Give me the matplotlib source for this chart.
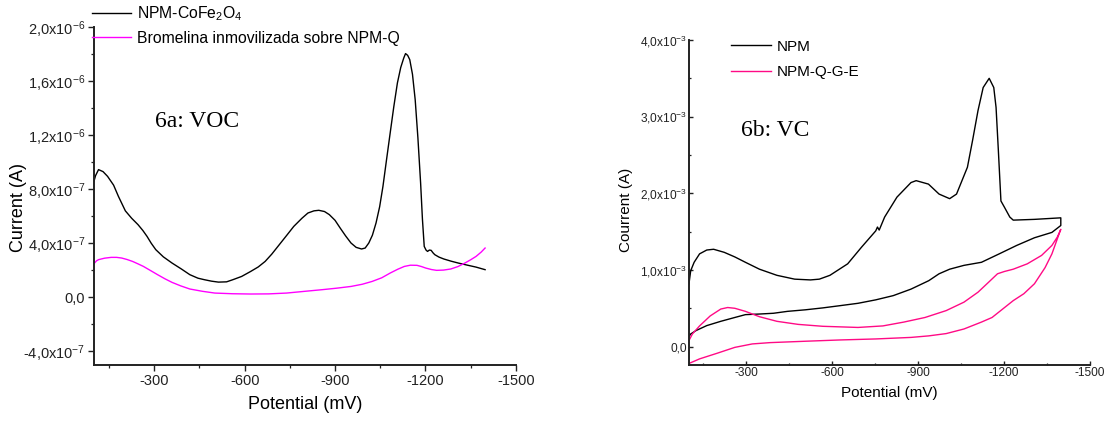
import matplotlib
matplotlib.use("Agg")
import matplotlib.pyplot as plt
import numpy as np
from matplotlib.ticker import FixedLocator, MultipleLocator

plt.rcParams['font.family'] = ['Liberation Sans', 'DejaVu Sans']
plt.rcParams['mathtext.fontset'] = 'custom'
plt.rcParams['mathtext.rm'] = 'Liberation Sans'
plt.rcParams['mathtext.default'] = 'regular'

# ---------------- Data: panel 6a (VOC) ----------------
# potential in mV, current in units of 1e-7 A
voc_black_x = [-100, -105, -115, -130, -145, -165, -181, -204, -225, -246, -262, -276, -290, -305,
               -330, -359, -390, -418, -445, -466, -490, -513, -540, -561, -590, -620, -645, -668,
               -690, -715, -740, -763, -790, -810, -830, -846, -865, -881, -900, -917, -935, -953,
               -970, -988, -1000, -1012, -1024, -1036, -1048, -1059, -1071, -1083, -1095, -1107,
               -1118, -1128, -1134, -1141, -1148, -1157, -1166, -1175, -1184, -1190, -1196, -1202,
               -1207, -1213, -1219, -1225, -1231, -1245, -1261, -1285, -1309, -1340, -1368, -1398]
voc_black_y = [8.6, 9.0, 9.45, 9.3, 8.95, 8.3, 7.47, 6.4, 5.85, 5.38, 4.95, 4.51, 4.0, 3.53,
               3.0, 2.54, 2.1, 1.68, 1.42, 1.31, 1.2, 1.13, 1.15, 1.31, 1.55, 1.92, 2.25, 2.66,
               3.2, 3.9, 4.6, 5.25, 5.85, 6.24, 6.4, 6.44, 6.35, 6.12, 5.7, 5.13, 4.55, 4.02,
               3.7, 3.58, 3.65, 4.02, 4.6, 5.5, 6.7, 8.21, 10.2, 12.16, 14.1, 15.86,
               17.0, 17.7, 18.03, 17.9, 17.58, 16.5, 14.62, 11.8, 8.46, 5.8, 3.77, 3.5,
               3.4, 3.5, 3.48, 3.3, 3.16, 2.98, 2.84, 2.68, 2.54, 2.38, 2.24, 2.05]
voc_pink_x = [-100, -108, -115, -135, -157, -175, -192, -210, -228, -246, -264, -288, -311, -335,
              -359, -388, -418, -460, -501, -560, -620, -680, -739, -800, -857, -905, -953, -990,
              -1023, -1055, -1083, -1108, -1130, -1150, -1172, -1187, -1201, -1220, -1237, -1260,
              -1284, -1308, -1331, -1350, -1368, -1385, -1398]
voc_pink_y = [2.5, 2.7, 2.79, 2.9, 2.96, 2.96, 2.91, 2.8, 2.66, 2.48, 2.29, 1.98, 1.68, 1.38,
              1.11, 0.85, 0.62, 0.45, 0.32, 0.27, 0.25, 0.26, 0.32, 0.45, 0.57, 0.68, 0.81, 0.97,
              1.18, 1.45, 1.8, 2.08, 2.29, 2.38, 2.37, 2.28, 2.17, 2.06, 2.0, 2.02,
              2.1, 2.28, 2.54, 2.78, 3.03, 3.35, 3.65]
voc_scale = 1e-7
voc_labels = ['NPM-CoFe$_2$O$_4$', 'Bromelina inmovilizada sobre NPM-Q']
voc_yticks = [-4e-7, 0.0, 4e-7, 8e-7, 1.2e-6, 1.6e-6, 2.0e-6]
voc_yticklabels = ['-4,0x10$^{-7}$', '0,0', '4,0x10$^{-7}$', '8,0x10$^{-7}$',
                   '1,2x10$^{-6}$', '1,6x10$^{-6}$', '2,0x10$^{-6}$']

# ---------------- Data: panel 6b (VC) ----------------
# potential in mV, current in units of 1e-3 A
vc_black_x = [-100, -106, -118, -137, -162, -186, -223, -260, -297, -346, -407, -469, -524, -555,
              -592, -654, -703, -752, -758, -764, -783, -826, -875, -893, -936, -973, -1010, -1034,
              -1072, -1090, -1109, -1127, -1148, -1164, -1172, -1180, -1189, -1201, -1220, -1232,
              -1306, -1398,
              -1398, -1367, -1306, -1244, -1183, -1121, -1060, -1010, -973, -937, -875, -813, -752,
              -690, -629, -567, -506, -444, -395, -346, -297, -260, -211, -162, -125, -106, -100]
vc_black_y = [0.82, 0.99, 1.1, 1.21, 1.26, 1.27, 1.23, 1.17, 1.1, 1.01, 0.93, 0.88, 0.87, 0.88,
              0.93, 1.08, 1.3, 1.51, 1.56, 1.52, 1.69, 1.95, 2.14, 2.165, 2.12, 1.99, 1.93, 1.99,
              2.34, 2.69, 3.08, 3.38, 3.5, 3.38, 3.12, 2.56, 1.9, 1.82, 1.69, 1.65,
              1.66, 1.68,
              1.58, 1.49, 1.42, 1.32, 1.21, 1.1, 1.06, 1.01, 0.95, 0.86, 0.75, 0.665, 0.61,
              0.565, 0.535, 0.505, 0.48, 0.46, 0.435, 0.425, 0.417, 0.38, 0.33, 0.274, 0.21, 0.165, 0.13]
vc_pink_x = [-100, -112, -137, -174, -211, -235, -260, -297, -346, -407, -481, -567, -690, -777,
             -850, -924, -998, -1060, -1109, -1146, -1177, -1201, -1232, -1281, -1331, -1367, -1386,
             -1398,
             -1392, -1367, -1343, -1306, -1269, -1232, -1195, -1158, -1121, -1060, -998, -937, -875,
             -752, -629, -506, -383, -321, -260, -198, -137, -100]
vc_pink_y = [0.08, 0.165, 0.27, 0.4, 0.49, 0.51, 0.5, 0.46, 0.39, 0.33, 0.29, 0.265, 0.25, 0.27,
             0.32, 0.38, 0.47, 0.58, 0.71, 0.84, 0.95, 0.98, 1.01, 1.08, 1.19, 1.32, 1.43,
             1.53,
             1.47, 1.21, 1.03, 0.82, 0.69, 0.6, 0.49, 0.38, 0.32, 0.23, 0.17, 0.14, 0.12,
             0.1, 0.087, 0.07, 0.052, 0.035, -0.01, -0.087, -0.16, -0.22]
vc_scale = 1e-3
vc_labels = ['NPM', 'NPM-Q-G-E']
vc_yticks = [0.0, 1e-3, 2e-3, 3e-3, 4e-3]
vc_yticklabels = ['0,0', '1,0x10$^{-3}$', '2,0x10$^{-3}$', '3,0x10$^{-3}$', '4,0x10$^{-3}$']

xticks = [-300, -600, -900, -1200, -1500]
xticklabels = ['-300', '-600', '-900', '-1200', '-1500']

fig = plt.figure(figsize=(11.10, 4.21), dpi=100)

def style_axes(ax, tick_fs, minor_y, direction, length, pad):
    for s in ['top', 'right']:
        ax.spines[s].set_visible(False)
    for s in ['left', 'bottom']:
        ax.spines[s].set_linewidth(1.4)
        ax.spines[s].set_color('#222222')
    ax.set_xlim(-100, -1500)
    ax.xaxis.set_major_locator(FixedLocator(xticks))
    ax.set_xticklabels(xticklabels)
    ax.xaxis.set_minor_locator(MultipleLocator(150))
    ax.yaxis.set_minor_locator(MultipleLocator(minor_y))
    ax.tick_params(which='major', direction=direction, length=length, width=1.0,
                   labelsize=tick_fs, colors='#222222', pad=pad)
    ax.tick_params(which='minor', direction=direction, length=length * 0.6, width=0.9,
                   colors='#222222')

# ---- left panel ----
axL = fig.add_axes([0.0847, 0.133, 0.380, 0.803])
axL.plot(np.array(voc_black_x), np.array(voc_black_y) * voc_scale, color='black', lw=1.0,
         label=voc_labels[0])
axL.plot(np.array(voc_pink_x), np.array(voc_pink_y) * voc_scale, color='#ff00ff', lw=1.0,
         label=voc_labels[1])
axL.set_ylim(-5.0e-7, 2.0e-6)
style_axes(axL, 10.5, 2e-7, 'out', 4, 2.5)
axL.yaxis.set_major_locator(FixedLocator(voc_yticks))
axL.set_yticklabels(voc_yticklabels)
axL.set_xlabel('Potential (mV)', fontsize=13, labelpad=6)
axL.set_ylabel('Current (A)', fontsize=13)
axL.yaxis.set_label_coords(-0.16, 0.465)
axL.text(0.145, 0.72, '6a: VOC', transform=axL.transAxes, fontsize=17,
         family='Liberation Serif', va='center', ha='left')
legL = axL.legend(loc='upper left', bbox_to_anchor=(-0.02, 1.086), frameon=False,
                  fontsize=11.3, handlelength=2.5, handletextpad=0.4, labelspacing=0.5,
                  borderaxespad=0)

# ---- right panel ----
axR = fig.add_axes([0.6207, 0.133, 0.3613, 0.772])
axR.plot(np.array(vc_black_x), np.array(vc_black_y) * vc_scale, color='black', lw=1.0,
         label=vc_labels[0])
axR.plot(np.array(vc_pink_x), np.array(vc_pink_y) * vc_scale, color='#ff0a85', lw=1.0,
         label=vc_labels[1])
axR.set_ylim(-0.24e-3, 4.0e-3)
style_axes(axR, 8.6, 0.5e-3, 'in', 3, 1.5)
axR.yaxis.set_major_locator(FixedLocator(vc_yticks))
axR.set_yticklabels(vc_yticklabels)
axR.set_xlabel('Potential (mV)', fontsize=11, labelpad=5)
axR.set_ylabel('Courrent (A)', fontsize=11)
axR.yaxis.set_label_coords(-0.14, 0.478)
axR.text(0.13, 0.72, '6b: VC', transform=axR.transAxes, fontsize=17,
         family='Liberation Serif', va='center', ha='left')
legR = axR.legend(loc='upper left', bbox_to_anchor=(0.09, 1.02), frameon=False,
                  fontsize=11, handlelength=2.6, handletextpad=0.4, labelspacing=0.75,
                  borderaxespad=0)

fig.savefig('out.png', dpi=100)
